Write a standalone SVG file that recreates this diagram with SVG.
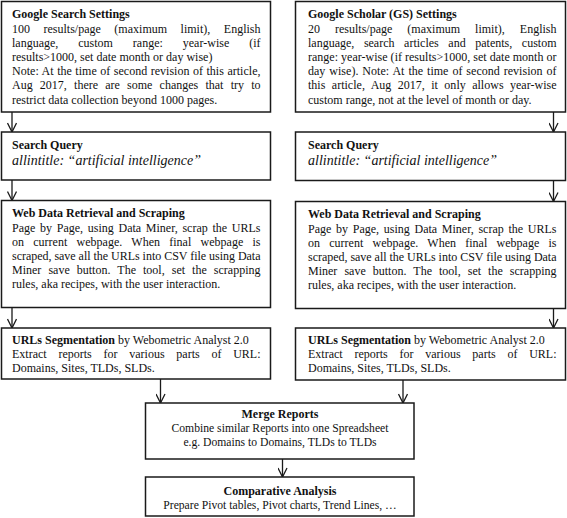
<svg xmlns="http://www.w3.org/2000/svg" width="567" height="518" viewBox="0 0 567 518">
<style>
.box{fill:#fff;stroke:#1a1a1a;stroke-width:1.5}
.t{font-family:"Liberation Serif","Times New Roman",serif;font-size:12px;fill:#111}
.b{font-weight:bold}
.i{font-style:italic;font-size:14px}
.c{text-anchor:middle}
.s{font-size:11.65px}
.conn{stroke:#1a1a1a;stroke-width:1.3;fill:none;marker-end:url(#arr)}
</style>
<defs>
<marker id="arr" viewBox="0 0 10 10" refX="10" refY="5" markerWidth="10" markerHeight="10" markerUnits="userSpaceOnUse" orient="auto">
<path d="M1,0.5 L10,5 L1,9.5" fill="none" stroke="#1a1a1a" stroke-width="1.3"/>
</marker>
</defs>
<rect width="567" height="518" fill="#fff"/>

<g id="gs-settings">
<rect class="box" x="1.5" y="1.5" width="269" height="110.5"/>
<text class="t b" x="12" y="18.3">Google Search Settings</text>
<text class="t" x="12" y="32.5" word-spacing="10.5" textLength="248.5" lengthAdjust="spacing">100 results/page (maximum limit), English</text>
<text class="t" x="12" y="46.7" word-spacing="16.9" textLength="248.5" lengthAdjust="spacing">language, custom range: year-wise (if</text>
<text class="t" x="12" y="60.9">results&gt;1000, set date month or day wise)</text>
<text class="t" x="12" y="75.1" word-spacing="0.5" textLength="248.5" lengthAdjust="spacing">Note: At the time of second revision of this article,</text>
<text class="t" x="12" y="89.3" word-spacing="4.2" textLength="248.5" lengthAdjust="spacing">Aug 2017, there are some changes that try to</text>
<text class="t" x="12" y="103.5">restrict data collection beyond 1000 pages.</text>
</g>

<g id="gsch-settings">
<rect class="box" x="295.5" y="1.5" width="270" height="110.5"/>
<text class="t b" x="308" y="18.3">Google Scholar (GS) Settings</text>
<text class="t" x="308" y="32.5" word-spacing="12" textLength="248.5" lengthAdjust="spacing">20 results/page (maximum limit), English</text>
<text class="t" x="308" y="46.7" word-spacing="6.6" textLength="248.5" lengthAdjust="spacing">language, search articles and patents, custom</text>
<text class="t" x="308" y="60.9" textLength="248.5" lengthAdjust="spacing">range: year-wise (if results&gt;1000, set date month or</text>
<text class="t" x="308" y="75.1" word-spacing="0.9" textLength="248.5" lengthAdjust="spacing">day wise). Note: At the time of second revision of</text>
<text class="t" x="308" y="89.3" word-spacing="3.4" textLength="248.5" lengthAdjust="spacing">this article, Aug 2017, it only allows year-wise</text>
<text class="t" x="308" y="103.5">custom range, not at the level of month or day.</text>
</g>

<g id="query-left">
<rect class="box" x="1.5" y="132" width="269" height="48"/>
<text class="t b" x="12" y="148.5">Search Query</text>
<text class="t i" x="12" y="164.5">allintitle: “artificial intelligence”</text>
</g>

<g id="query-right">
<rect class="box" x="295.5" y="132" width="270" height="48.5"/>
<text class="t b" x="308" y="148.5">Search Query</text>
<text class="t i" x="308" y="164.5">allintitle: “artificial intelligence”</text>
</g>

<g id="scrape-left">
<rect class="box" x="1.5" y="200.5" width="269" height="107"/>
<text class="t b" x="12" y="217.3">Web Data Retrieval and Scraping</text>
<text class="t" x="12" y="231.5" word-spacing="1.6" textLength="248.5" lengthAdjust="spacing">Page by Page, using Data Miner, scrap the URLs</text>
<text class="t" x="12" y="245.7" word-spacing="6.2" textLength="248.5" lengthAdjust="spacing">on current webpage. When final webpage is</text>
<text class="t" x="12" y="259.9" textLength="248.5" lengthAdjust="spacing">scraped, save all the URLs into CSV file using Data</text>
<text class="t" x="12" y="274.1" word-spacing="4" textLength="248.5" lengthAdjust="spacing">Miner save button. The tool, set the scrapping</text>
<text class="t" x="12" y="288.3">rules, aka recipes, with the user interaction.</text>
</g>

<g id="scrape-right">
<rect class="box" x="295.5" y="201.5" width="270" height="107"/>
<text class="t b" x="308" y="218.3">Web Data Retrieval and Scraping</text>
<text class="t" x="308" y="232.5" word-spacing="1.6" textLength="248.5" lengthAdjust="spacing">Page by Page, using Data Miner, scrap the URLs</text>
<text class="t" x="308" y="246.7" word-spacing="6.2" textLength="248.5" lengthAdjust="spacing">on current webpage. When final webpage is</text>
<text class="t" x="308" y="260.9" textLength="248.5" lengthAdjust="spacing">scraped, save all the URLs into CSV file using Data</text>
<text class="t" x="308" y="275.1" word-spacing="4" textLength="248.5" lengthAdjust="spacing">Miner save button. The tool, set the scrapping</text>
<text class="t" x="308" y="289.3">rules, aka recipes, with the user interaction.</text>
</g>

<g id="segment-left">
<rect class="box" x="1.5" y="328" width="269" height="51"/>
<text class="t" x="12" y="343.5"><tspan class="b">URLs Segmentation</tspan> by Webometric Analyst 2.0</text>
<text class="t" x="12" y="357.7" word-spacing="8.75" textLength="248.5" lengthAdjust="spacing">Extract reports for various parts of URL:</text>
<text class="t" x="12" y="371.9">Domains, Sites, TLDs, SLDs.</text>
</g>

<g id="segment-right">
<rect class="box" x="295.5" y="328" width="270" height="52"/>
<text class="t" x="308" y="344"><tspan class="b">URLs Segmentation</tspan> by Webometric Analyst 2.0</text>
<text class="t" x="308" y="358.2" word-spacing="8.75" textLength="248.5" lengthAdjust="spacing">Extract reports for various parts of URL:</text>
<text class="t" x="308" y="372.4">Domains, Sites, TLDs, SLDs.</text>
</g>

<g id="merge">
<rect class="box" x="145.5" y="403" width="268.5" height="56"/>
<text class="t b c" x="280" y="417.5">Merge Reports</text>
<text class="t c s" x="280" y="432">Combine similar Reports into one Spreadsheet</text>
<text class="t c s" x="280" y="446">e.g. Domains to Domains, TLDs to TLDs</text>
</g>

<g id="compare">
<rect class="box" x="145.5" y="477" width="268.5" height="39"/>
<text class="t b c" x="280" y="494.5">Comparative Analysis</text>
<text class="t c s" x="280" y="508.5">Prepare Pivot tables, Pivot charts, Trend Lines, …</text>
</g>

<g id="connectors">
<line class="conn" x1="12" y1="112" x2="12" y2="132"/>
<line class="conn" x1="12" y1="180" x2="12" y2="200.5"/>
<line class="conn" x1="12" y1="307.5" x2="12" y2="328"/>
<line class="conn" x1="553.5" y1="112" x2="553.5" y2="132"/>
<line class="conn" x1="553.5" y1="180.5" x2="553.5" y2="201.5"/>
<line class="conn" x1="553.5" y1="308.5" x2="553.5" y2="328"/>
<line class="conn" x1="160.5" y1="379" x2="160.5" y2="403"/>
<line class="conn" x1="403" y1="380" x2="403" y2="403"/>
<line class="conn" x1="282.5" y1="459" x2="282.5" y2="477"/>
</g>
</svg>
